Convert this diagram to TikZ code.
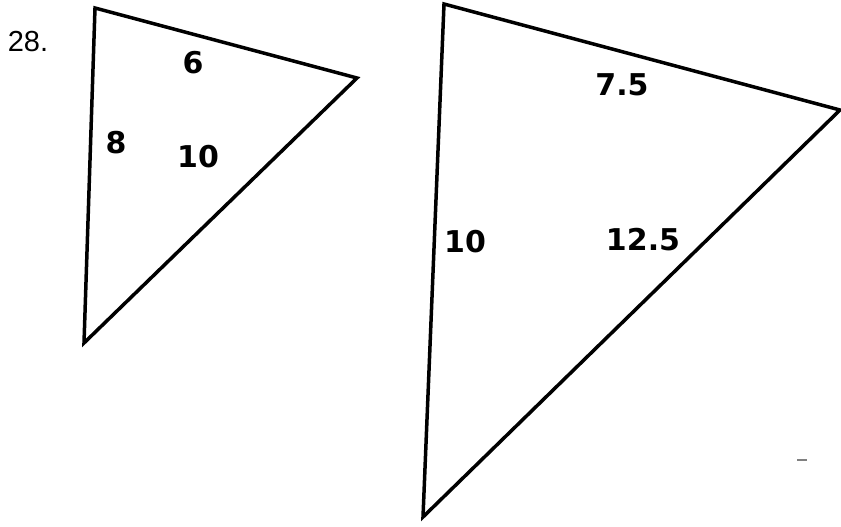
\documentclass[tikz,border=0pt]{standalone}
\usepackage{fontspec}
\setmainfont{Liberation Sans}
\newfontfamily\lblfont{DejaVu Sans}
\usepackage{tikz}

\tikzset{
  side/.style={line width=3.5pt,line join=miter},
  len/.style={font=\lblfont\bfseries\fontsize{30}{30}\selectfont,inner sep=0pt},
}

\begin{document}
\begin{tikzpicture}[x=1pt,y=-1pt]
        \useasboundingbox (0,0) rectangle (841,527);
        \node[font=\fontsize{29}{29}\selectfont,inner sep=0pt] (num) at (28,42) {28.};
        % small triangle
        \coordinate (sA) at (95,8);
        \coordinate (sB) at (357,78);
        \coordinate (sC) at (84,343);
        \draw[side] (sA) -- (sB) -- (sC) -- cycle;
        \node[len] (s6) at (193,63) {6};
        \node[len] (s8) at (116,143) {8};
        \node[len] (s10) at (198,157) {10};
        % large triangle
        \coordinate (bA) at (444,4);
        \coordinate (bB) at (840,110);
        \coordinate (bC) at (423,517);
        \draw[side] (bA) -- (bB) -- (bC) -- cycle;
        \node[len] (b75) at (622,85) {7.5};
        \node[len] (b10) at (465,242) {10};
        \node[len] (b125) at (643,240) {12.5};
        \draw[gray,line width=2.5pt] (797,460) -- (807,460);
      \end{tikzpicture}
\end{document}
